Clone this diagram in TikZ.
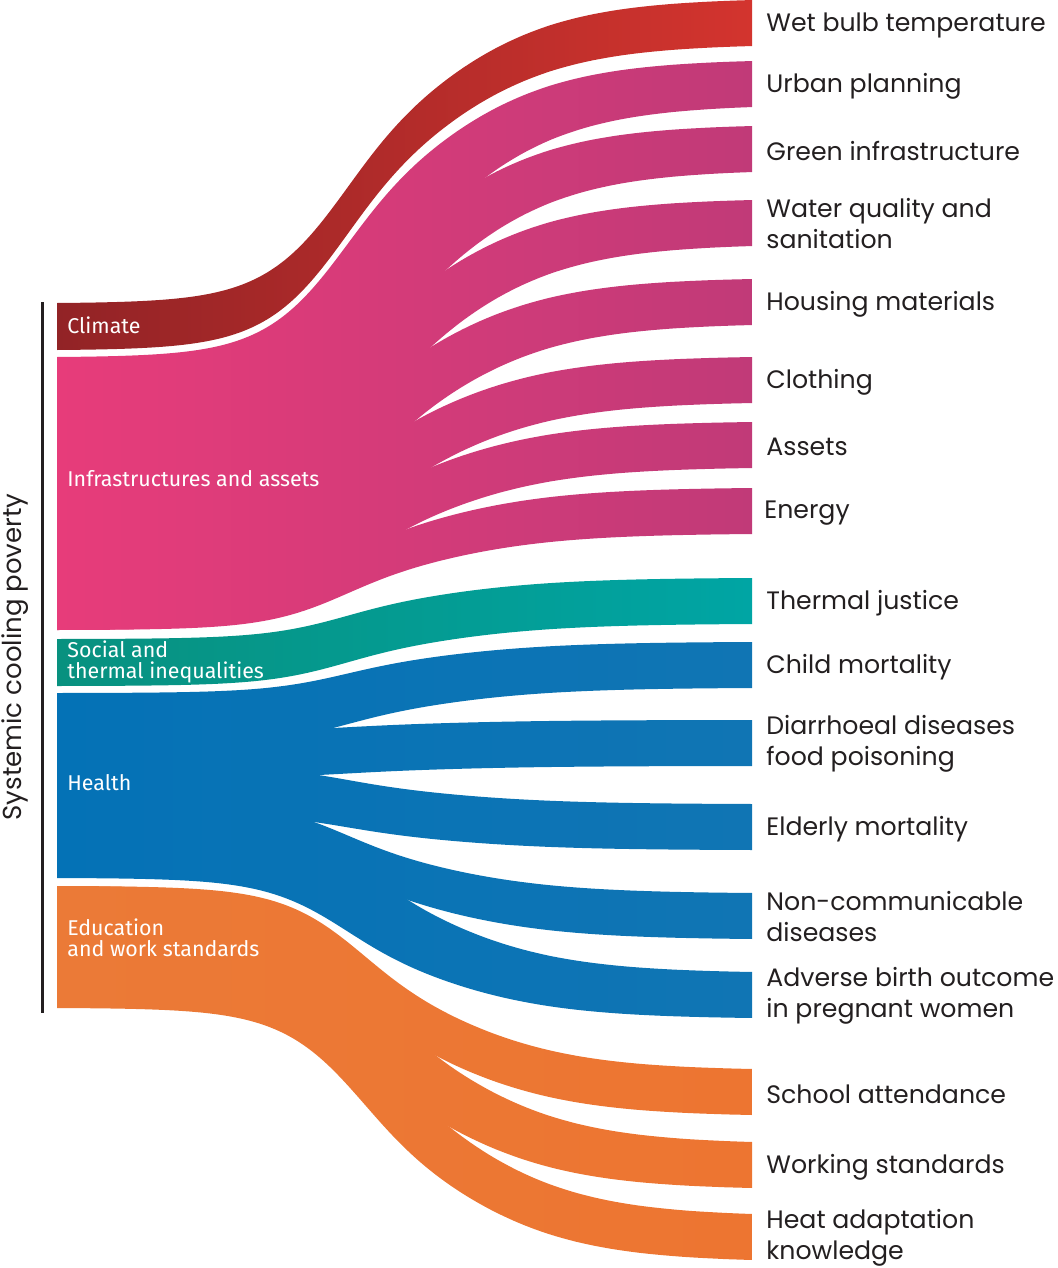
\documentclass[tikz,border=0pt]{standalone}
\usepackage{fontspec}
\newfontfamily\labelfont{Poppins}
\newfontfamily\blockfont{Fira Sans}
\usetikzlibrary{positioning}
\definecolor{climateL}{HTML}{922326}
\definecolor{climateR}{HTML}{D3342E}
\definecolor{infraL}{HTML}{E73C7A}
\definecolor{infraR}{HTML}{C13A78}
\definecolor{socialL}{HTML}{08917F}
\definecolor{socialR}{HTML}{00A5A4}
\definecolor{healthL}{HTML}{0472B6}
\definecolor{healthR}{HTML}{1075B4}
\definecolor{eduL}{HTML}{EB7A37}
\definecolor{eduR}{HTML}{ED7531}
\definecolor{labelgrey}{HTML}{231F20}

% one band: style, centre x, left top, left bottom, right top (46 high at the right end)
\newcommand{\flowband}[5]{%
  \path[#1] plot[smooth,domain=57:752,samples=80,variable=\t]
      (\t,{#3+(#5-#3)*flowshape(\t,#2)})
    -- plot[smooth,domain=752:57,samples=80,variable=\t]
      (\t,{#4+(#5+46-#4)*flowshape(\t,#2)}) -- cycle;}

\begin{document}
\begin{tikzpicture}[x=0.5pt,y=-0.5pt,
  declare function={
    flowwidth(\x,\c)=48+28/(1+exp(-(\x-\c-10)/40));
    flowlog(\x,\c)=1/(1+exp(-(\x-\c)/flowwidth(\x,\c)));
    flowshape(\x,\c)=(flowlog(\x,\c)-flowlog(57,\c))/(flowlog(752,\c)-flowlog(57,\c));},
  climateflow/.style={left color=climateL,right color=climateR},
  infraflow/.style={left color=infraL,right color=infraR},
  socialflow/.style={left color=socialL,right color=socialR},
  healthflow/.style={left color=healthL,right color=healthR},
  eduflow/.style={left color=eduL,right color=eduR},
  blocklabel/.style={anchor=west,inner sep=0pt,text=white,align=left,
    font=\blockfont\fontsize{10.7}{10.3}\selectfont},
  sinklabel/.style={anchor=west,inner sep=0pt,text=labelgrey,align=left,
    font=\labelfont\fontsize{12.6}{15.5}\selectfont}]
  \useasboundingbox (0,0) rectangle (1057,1268);

  % flows
  \flowband{climateflow}{375}{303}{350}{0}
  \foreach \at/\ab/\rt in {357/503.4/61,415/542.8/126,464.8/578.3/200,502.6/598.6/279,
      539.3/615.6/357,571.4/630/422,596.9/630/488}
    {\flowband{infraflow}{375}{\at}{\ab}{\rt}}
  \flowband{socialflow}{375}{639}{686}{578}
  \foreach \at/\ab/\rt in {693/746.5/642,731.7/778.1/720,765.1/813.3/804,
      799.9/834.6/893,779.2/878/972}
    {\flowband{healthflow}{375}{\at}{\ab}{\rt}}
  \foreach \at/\ab/\rt in {886/939.3/1069,886/983.2/1142,922/1008/1214}
    {\flowband{eduflow}{392}{\at}{\ab}{\rt}}

  % bracket and its title
  \coordinate (brtop) at (42,302);
  \coordinate (brbot) at (42,1013);
  \draw[line width=1.5pt,labelgrey] (brtop) -- (brbot);
  \node[rotate=90,inner sep=0pt,text=labelgrey,font=\labelfont\fontsize{13}{15.5}\selectfont]
    (title) at (15,657) {Systemic cooling poverty};

  % sources
  \node[blocklabel] (climate) at (67,325) {Climate};
  \node[blocklabel] (infra) at (67,479) {Infrastructures and assets};
  \node[blocklabel] (social) at (67,662) {Social and\\thermal inequalities};
  \node[blocklabel] (health) at (67,783) {Health};
  \node[blocklabel] (edu) at (67,938) {Education\\and work standards};

  % targets
  \node[sinklabel] (wetbulb) at (766,25) {Wet bulb temperature};
  \node[sinklabel] (urban) at (766,86) {Urban planning};
  \node[sinklabel] (green) at (766,151) {Green infrastructure};
  \node[sinklabel] (water) at (766,224) {Water quality and\\sanitation};
  \node[sinklabel] (housing) at (766,304) {Housing materials};
  \node[sinklabel] (clothing) at (766,382) {Clothing};
  \node[sinklabel] (assets) at (766,447) {Assets};
  \node[sinklabel] (energy) at (764,513) {Energy};
  \node[sinklabel] (justice) at (766,603) {Thermal justice};
  \node[sinklabel] (child) at (766,667) {Child mortality};
  \node[sinklabel] (diarrhoea) at (766,744) {Diarrhoeal diseases\\food poisoning};
  \node[sinklabel] (elderly) at (766,829) {Elderly mortality};
  \node[sinklabel] (noncomm) at (766,917) {Non-communicable\\diseases};
  \node[sinklabel] (birth) at (766,996) {Adverse birth outcome\\in pregnant women};
  \node[sinklabel] (school) at (766,1094) {School attendance};
  \node[sinklabel] (working) at (766,1167) {Working standards};
  \node[sinklabel] (heat) at (766,1238) {Heat adaptation\\knowledge};
\end{tikzpicture}
\end{document}
